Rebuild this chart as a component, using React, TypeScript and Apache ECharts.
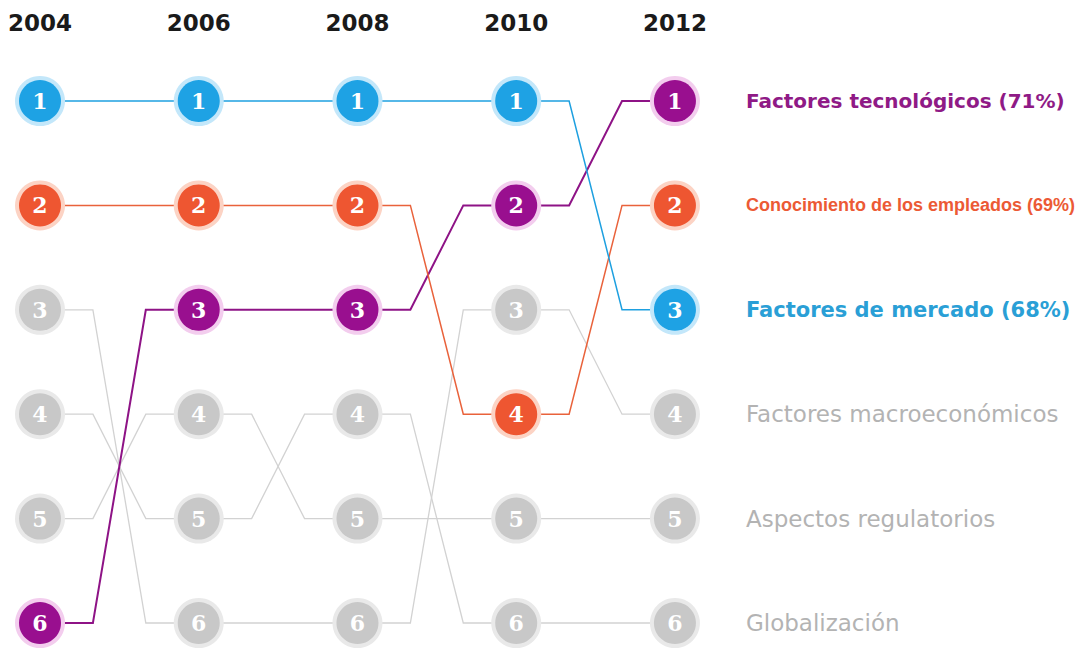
import React, { useEffect, useRef } from "react";
import * as echarts from "echarts";

const years = [2004, 2006, 2008, 2010, 2012];

const factorNames = [
  "Factores tecnológicos (71%)",
  "Conocimiento de los empleados (69%)",
  "Factores de mercado (68%)",
  "Factores macroeconómicos",
  "Aspectos regulatorios",
  "Globalización",
];

const tecnologicos = [6, 3, 3, 2, 1];
const conocimiento = [2, 2, 2, 4, 2];
const mercado = [1, 1, 1, 1, 3];
const macroeconomicos = [3, 6, 6, 3, 4];
const regulatorios = [5, 4, 5, 5, 5];
const globalizacion = [4, 5, 4, 6, 6];

const rankSeries = [tecnologicos, conocimiento, mercado, macroeconomicos, regulatorios, globalizacion];

const palette = [
  { main: "#990f8f", halo: "#f3cdee", line: "#8e1386", text: "#8f1a86", lw: 2, hl: true },
  { main: "#ee5631", halo: "#fcd3c4", line: "#e9623b", text: "#ec5a35", lw: 1.5, hl: true },
  { main: "#1ea2e4", halo: "#c3e7fa", line: "#1ea0e0", text: "#2a9fd6", lw: 1.5, hl: true },
  { main: "#c8c8c8", halo: "#e9e9e9", line: "#d2d2d2", text: "#b3b3b3", lw: 1.3, hl: false },
  { main: "#c8c8c8", halo: "#e9e9e9", line: "#d2d2d2", text: "#b3b3b3", lw: 1.3, hl: false },
  { main: "#c8c8c8", halo: "#e9e9e9", line: "#d2d2d2", text: "#b3b3b3", lw: 1.3, hl: false },
];

function buildSeries() {
  const series: any[] = [];
  rankSeries.forEach((ranks, k) => {
    const c = palette[k];
    const segs: number[][] = [];
    for (let i = 0; i < years.length - 1; i++) {
      segs.push([years[i], ranks[i], years[i + 1], ranks[i + 1]]);
    }
    series.push({
      type: "custom",
      name: factorNames[k] + " línea",
      z: c.hl ? 3 : 2,
      silent: true,
      encode: { x: [0, 2], y: [1, 3] },
      data: segs,
      renderItem: (params: any, api: any) => {
        const p0 = api.coord([api.value(0), api.value(1)]);
        const p3 = api.coord([api.value(2), api.value(3)]);
        const dx = (p3[0] - p0[0]) / 3;
        return {
          type: "polyline",
          shape: {
            points: [p0, [p0[0] + dx, p0[1]], [p3[0] - dx, p3[1]], p3],
          },
          style: { stroke: c.line, lineWidth: c.lw, fill: "none" },
        };
      },
    });
    const pts = years.map((y, i) => [y, ranks[i]]);
    series.push({
      type: "scatter",
      name: factorNames[k] + " halo",
      z: 4,
      silent: true,
      symbol: "circle",
      symbolSize: 50,
      itemStyle: { color: c.halo, opacity: 1 },
      data: pts,
    });
    series.push({
      type: "scatter",
      name: factorNames[k],
      z: 5,
      symbol: "circle",
      symbolSize: 42,
      itemStyle: { color: c.main, opacity: 1 },
      label: {
        show: true,
        position: "inside",
        formatter: (p: any) => String(p.value[1]),
        color: "#ffffff",
        fontFamily: "DejaVu Serif",
        fontWeight: "bold",
        fontSize: 22,
      },
      data: pts,
    });
  });
  return series;
}

const rankToFactor = (r: number) => rankSeries.findIndex((s) => s[s.length - 1] === r);

export default function App() {
  const ref = useRef<HTMLDivElement>(null);
  useEffect(() => {
    document.body.style.margin = "0";
    if (!ref.current) return;
    const chart = echarts.init(ref.current, null, { renderer: "svg" });
    const rich: any = {
      f0: { color: palette[0].text, fontFamily: "DejaVu Sans", fontWeight: "bold", fontSize: 20 },
      f1: { color: palette[1].text, fontFamily: "Liberation Sans", fontWeight: "bold", fontSize: 18 },
      f2: { color: palette[2].text, fontFamily: "DejaVu Sans", fontWeight: "bold", fontSize: 21 },
      f3: { color: palette[3].text, fontFamily: "DejaVu Sans", fontWeight: "normal", fontSize: 23 },
      f4: { color: palette[4].text, fontFamily: "DejaVu Sans", fontWeight: "normal", fontSize: 23 },
      f5: { color: palette[5].text, fontFamily: "DejaVu Sans", fontWeight: "normal", fontSize: 23 },
    };
    chart.setOption({
      animation: false,
      backgroundColor: "#ffffff",
      grid: { left: 40, right: 401, top: 101, bottom: 27, containLabel: false },
      xAxis: {
        type: "value",
        position: "top",
        min: 2004,
        max: 2012,
        interval: 2,
        axisLine: { show: false },
        axisTick: { show: false },
        splitLine: { show: false },
        axisLabel: {
          margin: 67,
          fontFamily: "DejaVu Sans",
          fontWeight: "bold",
          fontSize: 23,
          color: "#1a1a1a",
          formatter: (v: number) => String(v),
        },
      },
      yAxis: {
        type: "value",
        position: "right",
        inverse: true,
        min: 1,
        max: 6,
        interval: 1,
        axisLine: { show: false },
        axisTick: { show: false },
        splitLine: { show: false },
        axisLabel: {
          margin: 71,
          align: "left",
          formatter: (v: number) => {
            const k = rankToFactor(v);
            return k < 0 ? "" : `{f${k}|${factorNames[k]}}`;
          },
          rich,
        },
      },
      series: buildSeries(),
    });
    return () => chart.dispose();
  }, []);
  return <div ref={ref} style={{ width: 1078, height: 650 }} />;
}
